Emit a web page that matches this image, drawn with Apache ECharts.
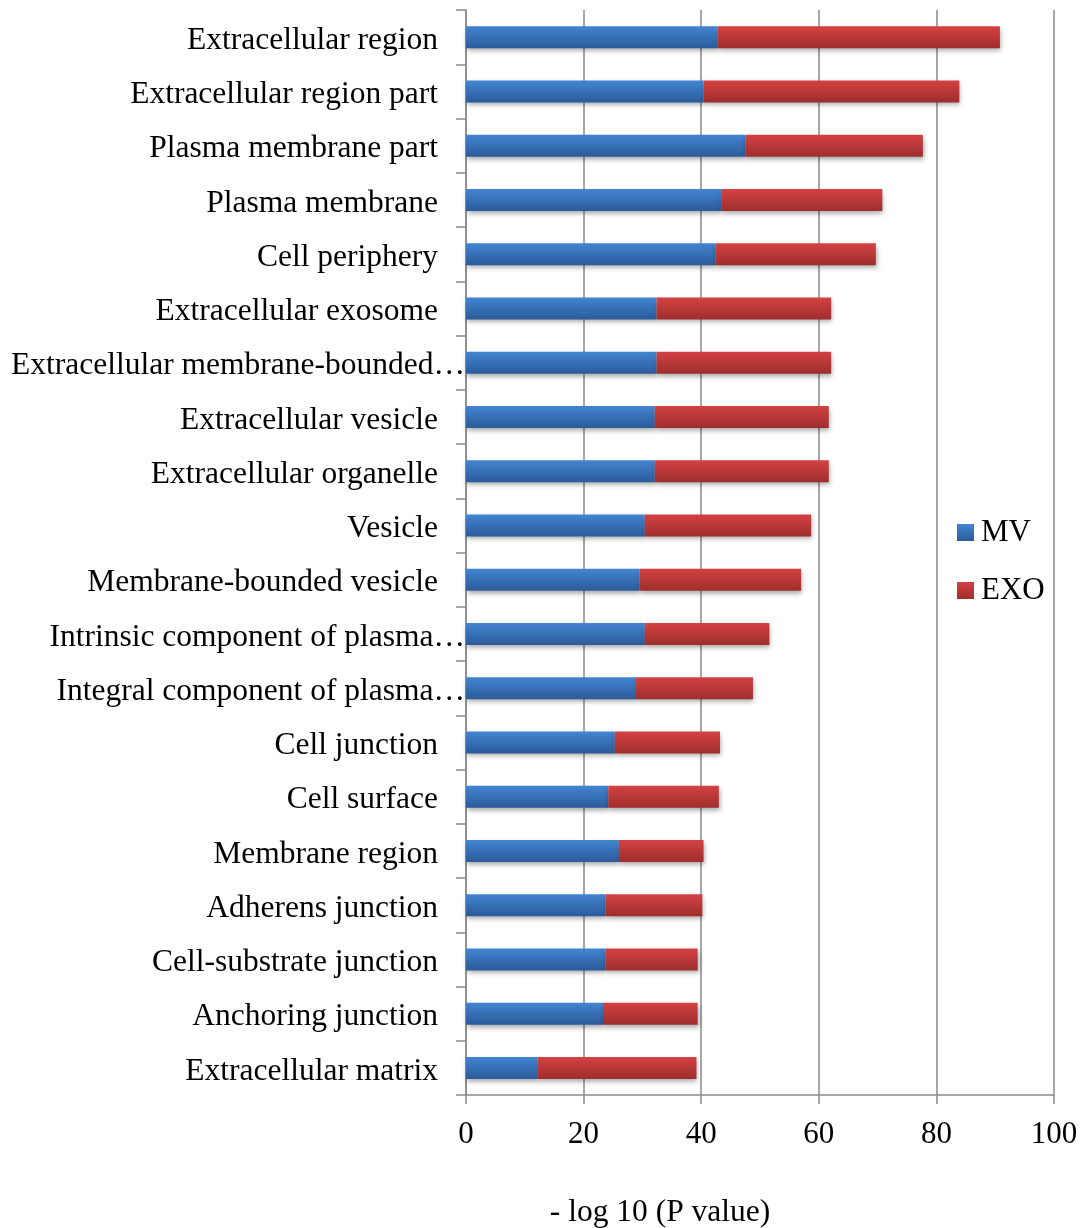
<!DOCTYPE html>
<html>
<head>
<meta charset="utf-8">
<script src="https://cdn.jsdelivr.net/npm/echarts@6/dist/echarts.min.js"></script>
<style>
  html, body { margin: 0; padding: 0; background: #fff; }
  #chart { width: 1088px; height: 1228px; }
</style>
</head>
<body>
<div id="chart"></div>
<script>
// GO cellular component terms, top to bottom
const categories = [
  'Extracellular region',
  'Extracellular region part',
  'Plasma membrane part',
  'Plasma membrane',
  'Cell periphery',
  'Extracellular exosome',
  'Extracellular membrane-bounded…',
  'Extracellular vesicle',
  'Extracellular organelle',
  'Vesicle',
  'Membrane-bounded vesicle',
  'Intrinsic component of plasma…',
  'Integral component of plasma…',
  'Cell junction',
  'Cell surface',
  'Membrane region',
  'Adherens junction',
  'Cell-substrate junction',
  'Anchoring junction',
  'Extracellular matrix'
];

// -log10(P) contributions, stacked
const mvValues = [42.8, 40.4, 47.5, 43.4, 42.4, 32.4, 32.4, 32.1, 32.1, 30.4,
                  29.5, 30.4, 28.9, 25.3, 24.2, 26.0, 23.7, 23.7, 23.3, 12.2];
const exoValues = [48.0, 43.5, 30.2, 27.4, 27.3, 29.7, 29.7, 29.6, 29.6, 28.3,
                   27.5, 21.2, 19.9, 17.9, 18.8, 14.4, 16.5, 15.7, 16.1, 27.0];

const xTicks = [0, 20, 40, 60, 80, 100];
const axisTitle = '- log 10 (P value)';

const FONT = '"Liberation Serif", "Times New Roman", serif';
const chart = echarts.init(document.getElementById('chart'), null, { renderer: 'canvas' });

function grad(top, bottom) {
  return new echarts.graphic.LinearGradient(0, 0, 0, 1, [
    { offset: 0, color: top },
    { offset: 1, color: bottom }
  ]);
}

const barShadow = {
  shadowColor: 'rgba(0,0,0,0.35)',
  shadowBlur: 5,
  shadowOffsetX: 1,
  shadowOffsetY: 3
};

chart.setOption({
  animation: false,
  backgroundColor: '#ffffff',
  grid: { left: 466, right: 34, top: 10, bottom: 133, containLabel: false },
  legend: {
    orient: 'vertical',
    left: 952,
    top: 512,
    itemWidth: 17,
    itemHeight: 17,
    itemGap: 27,
    icon: 'rect',
    textStyle: { fontFamily: FONT, fontSize: 31, color: '#000', padding: [0, 0, 0, 2] },
    data: ['MV', 'EXO']
  },
  xAxis: {
    type: 'value',
    min: xTicks[0],
    max: xTicks[xTicks.length - 1],
    interval: 20,
    axisLine: { show: true, lineStyle: { color: '#8a8a8a', width: 1.5 } },
    axisTick: { show: true, length: 9, lineStyle: { color: '#8a8a8a', width: 1.5 } },
    splitLine: { show: true, lineStyle: { color: '#8a8a8a', width: 1.5 } },
    axisLabel: {
      margin: 24,
      fontFamily: FONT,
      fontSize: 31,
      color: '#000',
      formatter: v => (xTicks.indexOf(v) >= 0 ? String(v) : '')
    }
  },
  yAxis: {
    type: 'category',
    inverse: true,
    data: categories,
    axisLine: { show: true, lineStyle: { color: '#8a8a8a', width: 1.5 } },
    axisTick: { show: true, length: 10, lineStyle: { color: '#8a8a8a', width: 1.5 } },
    axisLabel: {
      margin: 1,
      interval: 0,
      formatter: v => (v.endsWith('…') ? '{t|' + v + '}' : '{n|' + v + '}'),
      rich: {
        n: { fontFamily: FONT, fontSize: 31.5, color: '#000', padding: [7, 27, 0, 0] },
        t: { fontFamily: FONT, fontSize: 31.5, color: '#000', padding: [7, 0, 0, 0] }
      }
    }
  },
  graphic: [{
    type: 'text',
    x: 660,
    y: 1213,
    style: {
      text: axisTitle,
      fontFamily: FONT,
      fontSize: 31.5,
      fill: '#000',
      align: 'center',
      verticalAlign: 'middle'
    }
  }],
  series: [
    {
      name: 'MV',
      type: 'bar',
      stack: 'total',
      barWidth: 22,
      data: mvValues,
      itemStyle: Object.assign({ color: grad('#4385d2', '#2b5b9a') }, barShadow)
    },
    {
      name: 'EXO',
      type: 'bar',
      stack: 'total',
      barWidth: 22,
      data: exoValues,
      itemStyle: Object.assign({ color: grad('#d44242', '#9f2d2d') }, barShadow)
    }
  ]
});
</script>
</body>
</html>
